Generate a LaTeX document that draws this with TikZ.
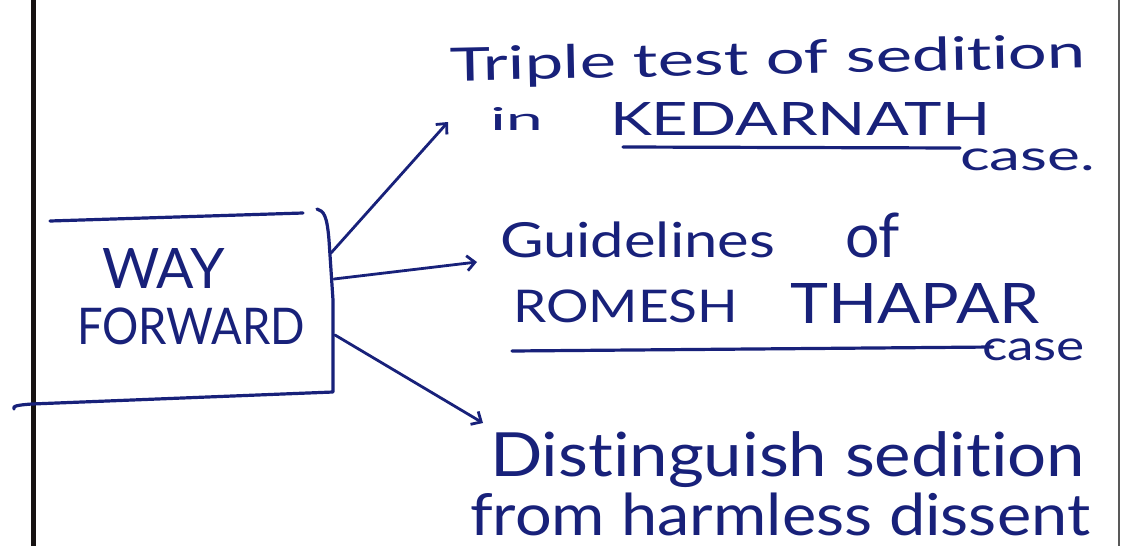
\documentclass[tikz,border=0pt]{standalone}
\usepackage{fontspec}
\setmainfont{Lato}[Ligatures=CommonOff]
\usepackage{graphicx}
\usetikzlibrary{arrows.meta}
\definecolor{ink}{RGB}{24,33,122}
\definecolor{margin}{RGB}{22,18,18}
% scale a piece of text to a given width and total height
\newcommand{\fitbox}[3]{\resizebox*{#1pt}{#2pt}{#3}}
\begin{document}
\begin{tikzpicture}[x=1pt,y=-1pt,
  inkline/.style={draw=ink,line width=3.2pt,line cap=round,line join=round},
  arrowline/.style={inkline,line width=2.8pt,-{Straight Barb[length=8pt,width=15pt]}},
  words/.style={inner sep=0pt,outer sep=0pt,anchor=north west,text=ink}]
\useasboundingbox[fill=white] (0,0) rectangle (1122,546);

% page margins
\draw[margin,line width=5pt] (33,0) -- (33,546);
\draw[black!65,line width=2pt] (1119,0) -- (1119,546);

% open box round the title
\draw[inkline] (50,221) -- (303,213);
\draw[inkline] (317,209) .. controls (324,211) and (327,216) .. (329,240)
  -- (333,300) -- (333,392) -- (32,404) .. controls (18,405) and (12,406) .. (14,409);
\node[words] (way) at (102,248) {\fitbox{123}{40}{WAY}};
\node[words] (fwd) at (77,308) {\fitbox{228}{37}{FORWARD}};

% points where the branches leave the box
\coordinate (b1) at (331,253);
\coordinate (b2) at (334,279);
\coordinate (b3) at (335,335);
\coordinate (t1) at (448,122);
\coordinate (t2) at (477,262);
\coordinate (t3) at (483,423);

% first branch
\node[words,rotate=1.2] (tri) at (450,47) {\fitbox{635}{42}{Triple test of sedition}};
\node[words] (in) at (490,107) {\fitbox{53}{23}{in}};
\node[words] (ked) at (610,102) {\fitbox{380}{33}{KEDARNATH}};
\coordinate (u1a) at (623,147);
\coordinate (u1b) at (960,148);
\draw[inkline] (u1a) -- (u1b);
\node[words] (case1) at (960,149) {\fitbox{135}{22}{case.}};

% second branch
\node[words] (gui) at (500,222) {\fitbox{275}{36}{Guidelines}};
\node[words] (of) at (845,213) {\fitbox{55}{45}{of}};
\node[words] (rom) at (513,290) {\fitbox{225}{33}{ROMESH}};
\node[words] (tha) at (790,283) {\fitbox{250}{40}{THAPAR}};
\coordinate (u2a) at (512,351);
\coordinate (u2b) at (993,347);
\draw[inkline] (u2a) -- (u2b);
\node[words] (case2) at (982,339) {\fitbox{103}{22}{case}};

% third branch
\node[words] (dis) at (490,432) {\fitbox{595}{56}{Distinguish sedition}};
\node[words] (fro) at (470,493) {\fitbox{620}{43}{from harmless dissent}};

% connectors
\draw[arrowline] (b1) -- (t1);
\draw[arrowline] (b2) -- (t2);
\draw[arrowline] (b3) -- (t3);
\end{tikzpicture}
\end{document}
